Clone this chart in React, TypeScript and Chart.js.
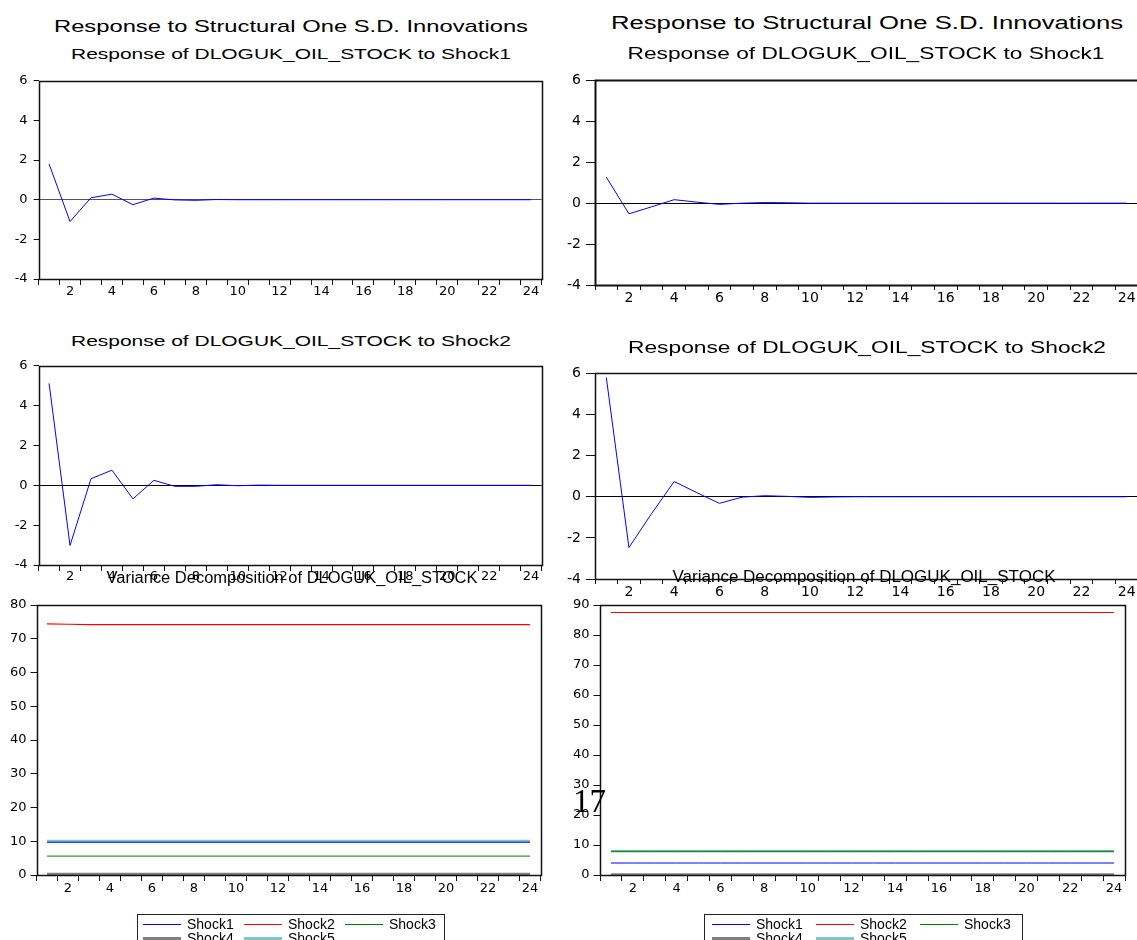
import React, { useEffect, useRef } from 'react';
import { Chart, registerables } from 'chart.js';

Chart.register(...registerables);

// ---------- data ----------
const periods = ['1', '2', '3', '4', '5', '6', '7', '8', '9', '10', '11', '12', '13', '14', '15', '16', '17', '18', '19', '20', '21', '22', '23', '24'];

const irfYTicks = [-4, -2, 0, 2, 4, 6];
const vdLeftYTicks = [0, 10, 20, 30, 40, 50, 60, 70, 80];
const vdRightYTicks = [0, 10, 20, 30, 40, 50, 60, 70, 80, 90];

const irfShock1Left = [1.8, -1.1, 0.1, 0.28, -0.25, 0.08, -0.01, -0.03, 0.01, 0.0, 0.0, 0.0, 0.0, 0.0, 0.0, 0.0, 0.0, 0.0, 0.0, 0.0, 0.0, 0.0, 0.0, 0.0];
const irfShock1Right = [1.27, -0.52, -0.18, 0.17, 0.05, -0.06, 0.0, 0.03, 0.02, 0.0, 0.0, 0.0, 0.0, 0.0, 0.0, 0.0, 0.0, 0.0, 0.0, 0.0, 0.0, 0.0, 0.0, 0.0];
const irfShock2Left = [5.12, -3.02, 0.33, 0.76, -0.68, 0.25, -0.05, -0.05, 0.03, -0.02, 0.01, 0.0, 0.0, 0.0, 0.0, 0.0, 0.0, 0.0, 0.0, 0.0, 0.0, 0.0, 0.0, 0.0];
const irfShock2Right = [5.8, -2.47, -0.82, 0.74, 0.2, -0.32, -0.02, 0.05, 0.02, -0.03, -0.01, 0.0, 0.0, 0.0, 0.0, 0.0, 0.0, 0.0, 0.0, 0.0, 0.0, 0.0, 0.0, 0.0];

const vdLeftShock1 = [9.7, 9.7, 9.7, 9.7, 9.7, 9.7, 9.7, 9.7, 9.7, 9.7, 9.7, 9.7, 9.7, 9.7, 9.7, 9.7, 9.7, 9.7, 9.7, 9.7, 9.7, 9.7, 9.7, 9.7];
const vdLeftShock2 = [74.4, 74.3, 74.2, 74.2, 74.2, 74.2, 74.2, 74.2, 74.2, 74.2, 74.2, 74.2, 74.2, 74.2, 74.2, 74.2, 74.2, 74.2, 74.2, 74.2, 74.2, 74.2, 74.2, 74.2];
const vdLeftShock3 = [5.6, 5.6, 5.6, 5.6, 5.6, 5.6, 5.6, 5.6, 5.6, 5.6, 5.6, 5.6, 5.6, 5.6, 5.6, 5.6, 5.6, 5.6, 5.6, 5.6, 5.6, 5.6, 5.6, 5.6];
const vdLeftShock4 = [0.3, 0.3, 0.3, 0.3, 0.3, 0.3, 0.3, 0.3, 0.3, 0.3, 0.3, 0.3, 0.3, 0.3, 0.3, 0.3, 0.3, 0.3, 0.3, 0.3, 0.3, 0.3, 0.3, 0.3];
const vdLeftShock5 = [10.1, 10.1, 10.1, 10.1, 10.1, 10.1, 10.1, 10.1, 10.1, 10.1, 10.1, 10.1, 10.1, 10.1, 10.1, 10.1, 10.1, 10.1, 10.1, 10.1, 10.1, 10.1, 10.1, 10.1];

const vdRightShock1 = [4.0, 4.0, 4.0, 4.0, 4.0, 4.0, 4.0, 4.0, 4.0, 4.0, 4.0, 4.0, 4.0, 4.0, 4.0, 4.0, 4.0, 4.0, 4.0, 4.0, 4.0, 4.0, 4.0, 4.0];
const vdRightShock2 = [87.5, 87.5, 87.5, 87.5, 87.5, 87.5, 87.5, 87.5, 87.5, 87.5, 87.5, 87.5, 87.5, 87.5, 87.5, 87.5, 87.5, 87.5, 87.5, 87.5, 87.5, 87.5, 87.5, 87.5];
const vdRightShock3 = [7.9, 7.9, 7.9, 7.9, 7.9, 7.9, 7.9, 7.9, 7.9, 7.9, 7.9, 7.9, 7.9, 7.9, 7.9, 7.9, 7.9, 7.9, 7.9, 7.9, 7.9, 7.9, 7.9, 7.9];
const vdRightShock4 = [0.2, 0.2, 0.2, 0.2, 0.2, 0.2, 0.2, 0.2, 0.2, 0.2, 0.2, 0.2, 0.2, 0.2, 0.2, 0.2, 0.2, 0.2, 0.2, 0.2, 0.2, 0.2, 0.2, 0.2];
const vdRightShock5 = [7.9, 7.9, 7.9, 7.9, 7.9, 7.9, 7.9, 7.9, 7.9, 7.9, 7.9, 7.9, 7.9, 7.9, 7.9, 7.9, 7.9, 7.9, 7.9, 7.9, 7.9, 7.9, 7.9, 7.9];

const seriesNames = ['Shock1', 'Shock2', 'Shock3', 'Shock4', 'Shock5'];

const titleMain = 'Response to Structural One S.D. Innovations';
const titleShock1 = 'Response of DLOGUK_OIL_STOCK to Shock1';
const titleShock2 = 'Response of DLOGUK_OIL_STOCK to Shock2';
const titleVD = 'Variance Decomposition of DLOGUK_OIL_STOCK';
const pageNumber = '17';

// ---------- styles ----------
const seriesColors = ['#0000FF', '#FF0000', '#008000', '#808080', '#80C4C4'];
const seriesLineWidths = [1, 1.2, 1, 2.5, 2.5];
const legendLineWidths = [1, 1, 1, 3, 3];
const irfColor = '#0000FF';
const SANS = '"Liberation Sans", Arial, sans-serif';
const TICK_FONT = 'DejaVu Sans';

type Series = { data: number[]; color: string; width: number };
type PanelSpec = {
  L: number; T: number; R: number; B: number;
  yTicks: number[];
  series: Series[];
  zeroColor?: string;
  fontSize: number;
  yTickLen: number;
  yPad: number;
  xTickLen: number;
  xLabelOffset: number;
  frameWidth: number;
};

const framePlugin = {
  id: 'frame',
  afterDatasetsDraw(chart: any, _args: any, opts: any) {
    const { ctx, chartArea } = chart;
    const l = Math.round(chartArea.left);
    const t = Math.round(chartArea.top);
    const r = Math.round(chartArea.right);
    const b = Math.round(chartArea.bottom);
    ctx.save();
    ctx.strokeStyle = opts.color || '#111';
    ctx.lineWidth = opts.width || 1;
    ctx.strokeRect(l + 0.5, t + 0.5, r - l, b - t);
    ctx.restore();
  },
};

function Panel({ spec }: { spec: PanelSpec }) {
  const ref = useRef<HTMLCanvasElement>(null);
  const left = Math.floor(spec.L - 50);
  const top = Math.floor(spec.T - 12);
  const width = Math.ceil(spec.R + 14 - left);
  const height = Math.ceil(spec.B + 34 - top);
  const axisW = spec.L - left;
  const padTop = spec.T - top;
  const padRight = width - (spec.R - left);
  const axisH = height - (spec.B - top);

  useEffect(() => {
    const lineHeight = spec.fontSize * 1.2;
    const chart = new Chart(ref.current as HTMLCanvasElement, {
      type: 'line',
      data: {
        labels: periods,
        datasets: spec.series.map((s) => ({
          data: s.data,
          borderColor: s.color,
          backgroundColor: s.color,
          borderWidth: s.width,
          pointRadius: 0,
          tension: 0,
          fill: false,
        })),
      },
      options: {
        animation: false,
        responsive: false,
        devicePixelRatio: 1,
        events: [],
        layout: { padding: { left: 0, top: padTop, right: padRight, bottom: 0 } },
        plugins: {
          legend: { display: false },
          tooltip: { enabled: false },
          frame: { color: '#111', width: spec.frameWidth },
        } as any,
        scales: {
          x: {
            type: 'category',
            offset: true,
            afterFit: (s: any) => { s.height = axisH; },
            border: { display: false },
            grid: {
              offset: true,
              drawOnChartArea: false,
              drawTicks: true,
              tickLength: spec.xTickLen,
              tickColor: '#111',
              color: '#111',
            },
            ticks: {
              autoSkip: false,
              maxRotation: 0,
              minRotation: 0,
              color: '#000',
              padding: spec.xLabelOffset - spec.xTickLen - lineHeight / 2,
              font: { family: TICK_FONT, size: spec.fontSize },
              callback: (_v: any, i: number) => (i % 2 === 1 ? periods[i] : ''),
            },
          },
          y: {
            type: 'linear',
            min: spec.yTicks[0],
            max: spec.yTicks[spec.yTicks.length - 1],
            afterFit: (s: any) => { s.width = axisW; },
            afterBuildTicks: (s: any) => { s.ticks = spec.yTicks.map((v) => ({ value: v })); },
            border: { display: false },
            grid: {
              drawOnChartArea: !!spec.zeroColor,
              drawTicks: true,
              tickLength: spec.yTickLen,
              tickColor: '#111',
              color: (ctx: any) =>
                ctx.tick && ctx.tick.value === 0 && spec.zeroColor ? spec.zeroColor : 'rgba(0,0,0,0)',
            },
            ticks: {
              color: '#000',
              padding: spec.yPad,
              font: { family: TICK_FONT, size: spec.fontSize },
            },
          },
        },
      } as any,
      plugins: [framePlugin as any],
    });
    return () => chart.destroy();
  }, []);

  return (
    <canvas
      ref={ref}
      width={width}
      height={height}
      style={{ position: 'absolute', left, top, width, height }}
    />
  );
}

let measureCtx: CanvasRenderingContext2D | null = null;
function measure(text: string, font: string) {
  if (!measureCtx) measureCtx = document.createElement('canvas').getContext('2d');
  measureCtx!.font = font;
  return measureCtx!.measureText(text).width;
}

function StretchText({ text, cx, cy, size, width }: { text: string; cx: number; cy: number; size: number; width: number }) {
  const s = width / measure(text, `${size}px ${SANS}`);
  return (
    <div
      style={{
        position: 'absolute',
        left: cx,
        top: cy,
        fontFamily: SANS,
        fontSize: size,
        lineHeight: `${size}px`,
        whiteSpace: 'nowrap',
        color: '#000',
        transform: `translate(-50%, -50%) scaleX(${s})`,
      }}
    >
      {text}
    </div>
  );
}

function Legend({ left, top, width, swatchX, textX }: { left: number; top: number; width: number; swatchX: number[]; textX: number[] }) {
  const rowY = [9, 23];
  return (
    <div
      style={{
        position: 'absolute',
        left,
        top,
        width,
        height: 44,
        border: '1px solid #222',
        boxSizing: 'border-box',
        background: '#fff',
      }}
    >
      {seriesNames.map((name, i) => {
        const row = Math.floor(i / 3);
        const col = i % 3;
        const h = legendLineWidths[i];
        return (
          <React.Fragment key={name}>
            <div
              style={{
                position: 'absolute',
                left: swatchX[col],
                top: rowY[row] - h / 2,
                width: 38,
                height: h,
                background: seriesColors[i],
              }}
            />
            <div
              style={{
                position: 'absolute',
                left: textX[col],
                top: rowY[row] - 7,
                fontFamily: SANS,
                fontSize: 14,
                lineHeight: '14px',
                whiteSpace: 'nowrap',
                color: '#000',
              }}
            >
              {name}
            </div>
          </React.Fragment>
        );
      })}
    </div>
  );
}

const vdSeries = (arr: number[][]): Series[] =>
  arr.map((d, i) => ({ data: d, color: seriesColors[i], width: seriesLineWidths[i] }));

const panels: PanelSpec[] = [
  {
    L: 38.6, T: 79, R: 541.6, B: 279, yTicks: irfYTicks,
    series: [{ data: irfShock1Left, color: irfColor, width: 1 }],
    zeroColor: '#555', fontSize: 13, yTickLen: 5, yPad: 6, xTickLen: 6, xLabelOffset: 13, frameWidth: 1.5,
  },
  {
    L: 595, T: 79, R: 1138, B: 285, yTicks: irfYTicks,
    series: [{ data: irfShock1Right, color: irfColor, width: 1 }],
    zeroColor: '#000', fontSize: 14, yTickLen: 9, yPad: 5, xTickLen: 5, xLabelOffset: 13, frameWidth: 2,
  },
  {
    L: 38.6, T: 364.3, R: 541.6, B: 565, yTicks: irfYTicks,
    series: [{ data: irfShock2Left, color: irfColor, width: 1 }],
    zeroColor: '#000', fontSize: 13, yTickLen: 5, yPad: 6, xTickLen: 6, xLabelOffset: 12, frameWidth: 1.5,
  },
  {
    L: 595, T: 372.7, R: 1138, B: 579, yTicks: irfYTicks,
    series: [{ data: irfShock2Right, color: irfColor, width: 1 }],
    zeroColor: '#000', fontSize: 14, yTickLen: 9, yPad: 5, xTickLen: 5, xLabelOffset: 13, frameWidth: 1.5,
  },
  {
    L: 36.5, T: 605, R: 540.5, B: 875, yTicks: vdLeftYTicks,
    series: vdSeries([vdLeftShock1, vdLeftShock2, vdLeftShock3, vdLeftShock4, vdLeftShock5]),
    fontSize: 13, yTickLen: 6, yPad: 4, xTickLen: 6, xLabelOffset: 14, frameWidth: 1.5,
  },
  {
    L: 600, T: 605, R: 1125, B: 875, yTicks: vdRightYTicks,
    series: vdSeries([vdRightShock1, vdRightShock2, vdRightShock3, vdRightShock4, vdRightShock5]),
    fontSize: 13, yTickLen: 6.5, yPad: 4, xTickLen: 6, xLabelOffset: 14, frameWidth: 1.5,
  },
];

export default function App() {
  return (
    <div
      style={{
        position: 'absolute',
        left: 0,
        top: 0,
        width: 1137,
        height: 940,
        overflow: 'hidden',
        background: '#fff',
      }}
    >
      {panels.map((p, i) => (
        <Panel key={i} spec={p} />
      ))}

      <StretchText text={titleMain} cx={291} cy={25.5} size={17} width={474} />
      <StretchText text={titleShock1} cx={291} cy={54} size={15.5} width={440} />
      <StretchText text={titleMain} cx={867} cy={24} size={17.5} width={512} />
      <StretchText text={titleShock1} cx={866} cy={54} size={16} width={477} />
      <StretchText text={titleShock2} cx={291} cy={340.5} size={15.5} width={440} />
      <StretchText text={titleShock2} cx={867} cy={348.3} size={16} width={478} />
      <StretchText text={titleVD} cx={291.5} cy={577.5} size={16} width={371} />
      <StretchText text={titleVD} cx={863.5} cy={577} size={16} width={383} />

      <Legend left={137} top={914} width={308} swatchX={[5, 106, 207]} textX={[49, 150, 251]} />
      <Legend left={704} top={914} width={319} swatchX={[7, 111, 215]} textX={[51, 155, 259]} />

      <div
        style={{
          position: 'absolute',
          left: 573,
          top: 785,
          fontFamily: '"Liberation Serif", "Times New Roman", serif',
          fontSize: 33,
          lineHeight: '33px',
          color: '#000',
          whiteSpace: 'nowrap',
        }}
      >
        {pageNumber}
      </div>
    </div>
  );
}
